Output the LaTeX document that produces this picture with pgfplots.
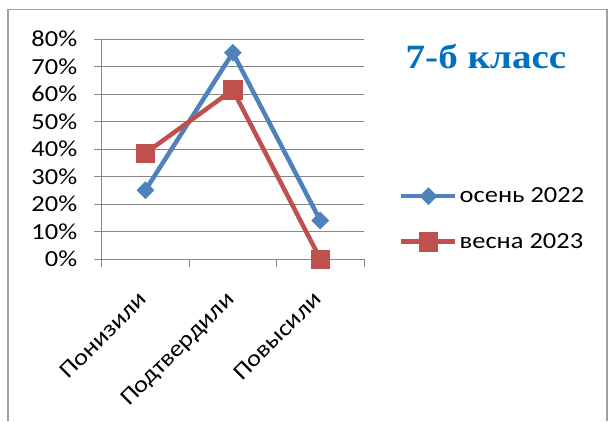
\documentclass[border=0pt]{standalone}
\usepackage{fontspec}
\setmainfont[FakeStretch=1.15]{Carlito}
\newfontfamily\titlefont[FakeStretch=1.15]{Liberation Serif}
\usepackage{pgfplots}
\pgfplotsset{compat=1.18}

\definecolor{autumn}{HTML}{4F81BD}
\definecolor{spring}{HTML}{C0504D}
\definecolor{titleblue}{HTML}{0070C0}
\definecolor{gridgray}{HTML}{868686}
\definecolor{framegray}{HTML}{A0A0A0}

\begin{document}
\begin{tikzpicture}
\useasboundingbox (0pt,0pt) rectangle (611pt,421pt);
\draw[framegray, line width=1.5pt] (8pt,0pt) -- (8pt,411.5pt) -- (607pt,411.5pt) -- (607pt,0pt);

\begin{axis}[
    at={(101.7pt,162pt)}, anchor=south west,
    scale only axis, width=262.3pt, height=220pt,
    xmin=0, xmax=3, ymin=0, ymax=80,
    clip=false,
    axis x line*=bottom, axis y line*=left,
    axis line style={gridgray, line width=0.9pt, -},
    tick style={gridgray, line width=0.9pt},
    tick align=outside, major tick length=8pt,
    ymajorgrids, grid style={gridgray, line width=0.9pt},
    ytick={0,10,...,80},
    yticklabel={\pgfmathprintnumber{\tick}\%},
    yticklabel style={xshift=-13pt},
    /pgf/number format/assume math mode=true,
    xtick={0,1,2,3}, xticklabels={},
    extra x ticks={0.5,1.5,2.5},
    extra x tick labels={Понизили,Подтвердили,Повысили},
    extra x tick style={major tick length=0pt, grid=none,
        tick label style={yshift=-26pt, xshift=-8pt, rotate=45, anchor=north east}},
    tick label style={font=\fontsize{23}{27}\selectfont, text=black},
    legend style={at={(1.1335,0.182)}, anchor=west, draw=none, fill=none,
        inner sep=0pt, row sep=25pt, font=\fontsize{23}{27}\selectfont},
    legend cell align=left,
    legend image code/.code={
        \draw[mark repeat=2, mark phase=2, #1]
            plot coordinates {(0pt,0pt) (27pt,0pt) (54pt,0pt)};},
]
\addplot[autumn, line width=4.5pt, mark=square*, mark size=6pt,
    mark options={rotate=45, line width=0.5pt, fill=autumn}]
    coordinates {(0.5,25) (1.5,75) (2.5,14)};
\addlegendentry{осень 2022}
\addplot[spring, line width=4.5pt, mark=square*, mark size=9.2pt,
    mark options={line width=0.5pt, fill=spring}]
    coordinates {(0.5,38.5) (1.5,61.5) (2.5,0)};
\addlegendentry{весна 2023}
\end{axis}

\node[text=titleblue, font=\titlefont\bfseries\fontsize{34}{40}\selectfont]
    at (486pt,365pt) {7-б класс};
\end{tikzpicture}
\end{document}
